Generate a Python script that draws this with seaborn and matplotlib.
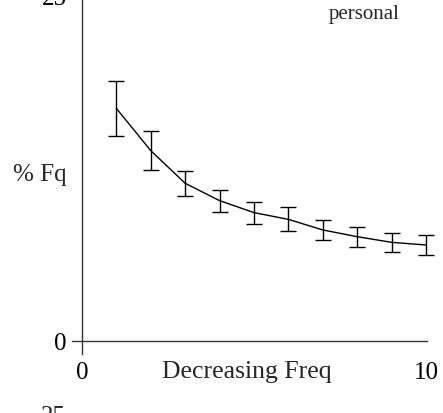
import matplotlib
matplotlib.use("Agg")
import matplotlib.pyplot as plt
import seaborn as sns
import pandas as pd

rank = [1, 2, 3, 4, 5, 6, 7, 8, 9, 10]
pct_fq = [16.9, 13.83, 11.46, 10.2, 9.33, 8.84, 8.07, 7.58, 7.17, 6.98]
err = [2.0, 1.4, 0.9, 0.8, 0.8, 0.87, 0.73, 0.74, 0.71, 0.7]
x_ticks = [0, 10]
y_ticks = [0, 25]

sns.set_theme(style="white")
plt.rcParams['font.family'] = ['Liberation Serif', 'DejaVu Serif']

W, H = 443, 413
fig = plt.figure(figsize=(W / 100, H / 100), dpi=100)

# pixel geometry
x0_px, x10_px = 82, 426
y0_px, y25_px = 341, -3
xpu = (x10_px - x0_px) / 10.0
ypu = (y0_px - y25_px) / 25.0
xmin = -10 / xpu
ymin = -13 / ypu
left_px = x0_px + xmin * xpu
right_px = 427
bottom_px = y0_px - ymin * ypu
top_px = y25_px
ax = fig.add_axes([left_px / W, 1 - bottom_px / H,
                   (right_px - left_px) / W, (bottom_px - top_px) / H])

df = pd.DataFrame({"rank": rank, "pct": pct_fq})
sns.lineplot(data=df, x="rank", y="pct", ax=ax, color="black", linewidth=1.0)
eb = ax.errorbar(rank, pct_fq, yerr=err, fmt="none", ecolor="black",
                 elinewidth=1.0, capsize=5.5, capthick=1.0)
for art in list(eb.lines[1]) + list(eb.lines[2]):
    art.set_clip_on(False)

ax.set_xlim(xmin, (right_px - x0_px) / xpu)
ax.set_ylim(ymin, 25)
for s in ["top", "right"]:
    ax.spines[s].set_visible(False)
ax.spines["left"].set_position(("data", 0))
ax.spines["bottom"].set_position(("data", 0))
for s in ["left", "bottom"]:
    ax.spines[s].set_color("#333333")
    ax.spines[s].set_linewidth(1.0)

ax.set_xticks(x_ticks)
ax.set_yticks(y_ticks)
ax.set_xticklabels([str(v) for v in x_ticks])
ax.set_yticklabels([str(v) for v in y_ticks])
ax.tick_params(axis="both", length=0, labelsize=18, colors="black")
ax.tick_params(axis="x", pad=15)
ax.tick_params(axis="y", pad=11)
ax.set_xlabel("")
ax.set_ylabel("")

fig.text(13 / W, 1 - 175 / H, "% Fq", ha="left", va="center", fontsize=18)
fig.text(247 / W, 1 - 372 / H, "Decreasing Freq", ha="center", va="center", fontsize=18.5)
fig.text(364 / W, 1 - 14 / H, "personal", ha="center", va="center", fontsize=15)
fig.text(66 / W, 1 - 406 / H, "25", ha="right", va="top", fontsize=18)

fig.savefig("out.png", dpi=100)
